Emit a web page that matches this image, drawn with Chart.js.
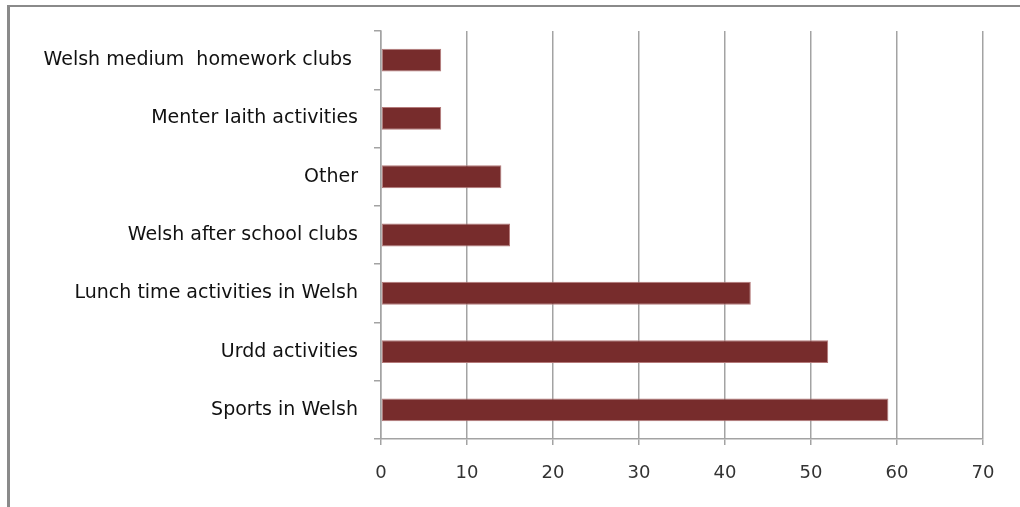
<!DOCTYPE html>
<html>
<head>
<meta charset="utf-8">
<script src="https://cdn.jsdelivr.net/npm/chart.js@4/dist/chart.umd.min.js"></script>
<style>
  html, body { margin: 0; padding: 0; background: #fff; }
  #wrap { position: relative; width: 1020px; height: 507px; overflow: hidden; }
  #frame { position: absolute; left: 7px; top: 5px; width: 1100px; height: 600px;
           border-top: 2px solid #8a8a8a; border-left: 3px solid #8a8a8a; box-sizing: border-box; }
  canvas { position: absolute; left: 0; top: 0; }
</style>
</head>
<body>
<div id="wrap">
  <div id="frame"></div>
  <canvas id="c" width="1020" height="507"></canvas>
</div>
<script>
const categories = [
  "Welsh medium  homework clubs ",
  "Menter Iaith activities",
  "Other",
  "Welsh after school clubs",
  "Lunch time activities in Welsh",
  "Urdd activities",
  "Sports in Welsh"
];
const values = [7, 7, 14, 15, 43, 52, 59];
const xTicks = [0, 10, 20, 30, 40, 50, 60, 70];

new Chart(document.getElementById('c'), {
  type: 'bar',
  data: {
    labels: categories,
    datasets: [{
      data: values,
      backgroundColor: '#772C2C',
      borderColor: '#b47a7a',
      borderWidth: 1,
      borderSkipped: false,
      barPercentage: 0.8,
      categoryPercentage: 0.49
    }]
  },
  options: {
    responsive: false,
    animation: false,
    indexAxis: 'y',
    layout: { padding: { left: 0, right: 37, top: 31, bottom: 0 } },
    plugins: { legend: { display: false }, tooltip: { enabled: false } },
    scales: {
      x: {
        min: xTicks[0],
        max: xTicks[xTicks.length - 1],
        afterBuildTicks: (s) => { s.ticks = xTicks.map(v => ({ value: v })); },
        afterFit: (s) => { s.height = 68; },
        grid: { color: '#a3a3a3', lineWidth: 1.5, tickLength: 6, drawTicks: true },
        border: { color: '#a3a3a3', width: 1.5 },
        ticks: { color: '#333', padding: 18, font: { family: 'DejaVu Sans', size: 18 } }
      },
      y: {
        afterFit: (s) => { s.width = 381; },
        grid: { drawOnChartArea: false, color: '#a3a3a3', lineWidth: 1.5, tickLength: 7 },
        border: { color: '#a3a3a3', width: 1.5 },
        ticks: { color: '#111', padding: 16, font: { family: 'DejaVu Sans', size: 19 } }
      }
    }
  }
});
</script>
</body>
</html>
